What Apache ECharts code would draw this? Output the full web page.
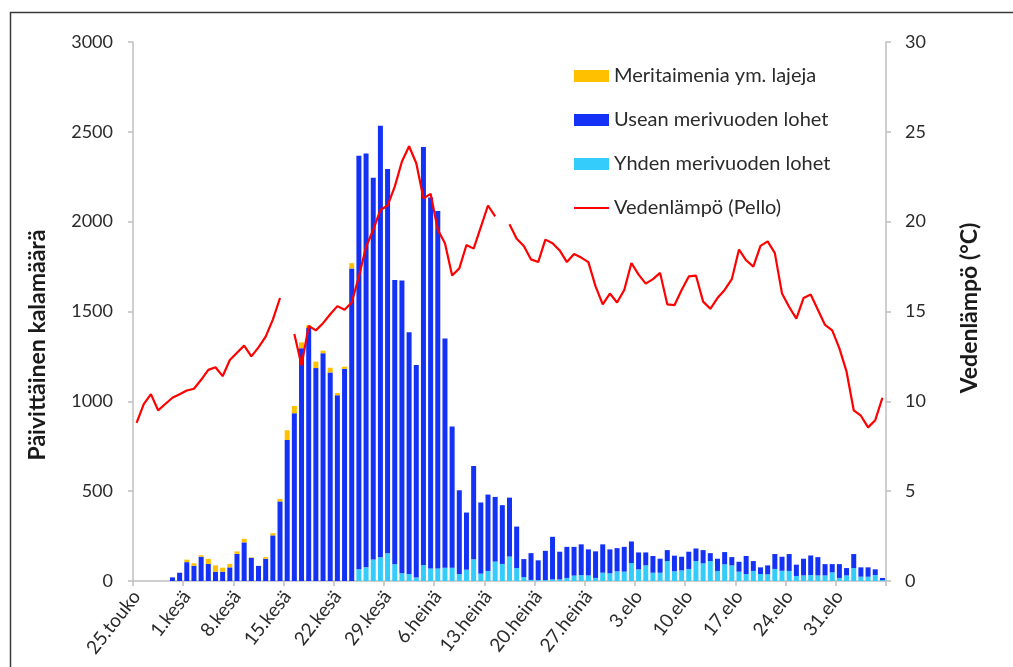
<!DOCTYPE html>
<html>
<head>
<meta charset="utf-8">
<script src="https://cdn.jsdelivr.net/npm/echarts@6/dist/echarts.min.js"></script>
<style>
  html, body { margin: 0; padding: 0; background: #ffffff; }
  #chart { width: 1013px; height: 667px; }
</style>
</head>
<body>
<div id="chart"></div>
<script>
// Päivittäiset nousukalamäärät ja veden lämpötila, 25.5.–6.9.
const days = [
  "25.touko","26.touko","27.touko","28.touko","29.touko","30.touko","31.touko",
  "1.kesä","2.kesä","3.kesä","4.kesä","5.kesä","6.kesä","7.kesä","8.kesä","9.kesä","10.kesä",
  "11.kesä","12.kesä","13.kesä","14.kesä","15.kesä","16.kesä","17.kesä","18.kesä","19.kesä","20.kesä",
  "21.kesä","22.kesä","23.kesä","24.kesä","25.kesä","26.kesä","27.kesä","28.kesä","29.kesä","30.kesä",
  "1.heinä","2.heinä","3.heinä","4.heinä","5.heinä","6.heinä","7.heinä","8.heinä","9.heinä","10.heinä",
  "11.heinä","12.heinä","13.heinä","14.heinä","15.heinä","16.heinä","17.heinä","18.heinä","19.heinä","20.heinä",
  "21.heinä","22.heinä","23.heinä","24.heinä","25.heinä","26.heinä","27.heinä","28.heinä","29.heinä","30.heinä","31.heinä",
  "1.elo","2.elo","3.elo","4.elo","5.elo","6.elo","7.elo","8.elo","9.elo","10.elo",
  "11.elo","12.elo","13.elo","14.elo","15.elo","16.elo","17.elo","18.elo","19.elo","20.elo",
  "21.elo","22.elo","23.elo","24.elo","25.elo","26.elo","27.elo","28.elo","29.elo","30.elo","31.elo",
  "1.syys","2.syys","3.syys","4.syys","5.syys","6.syys"
];

// Meritaimenia ym. lajeja (kpl/vrk)
const meritaimen = [
  0, 0, 0, 0, 0, 0, 0, 14, 14, 8,
  28, 35, 22, 19, 14, 20, 3, 0, 10, 12,
  14, 54, 40, 32, 15, 36, 14, 26, 12, 12,
  29, 0, 0, 0, 0, 0, 0, 0, 0, 0,
  0, 0, 0, 0, 0, 0, 0, 0, 0, 0,
  0, 0, 0, 0, 0, 0, 0, 0, 0, 0,
  0, 0, 0, 0, 0, 0, 0, 0, 0, 0,
  0, 0, 0, 0, 0, 0, 0, 0, 0, 0,
  0, 0, 0, 0, 0, 0, 0, 0, 0, 0,
  0, 0, 0, 0, 0, 0, 0, 0, 0, 0,
  0, 0, 0, 0, 0
];

// Usean merivuoden lohet (kpl/vrk)
const useanLohet = [
  0, 0, 0, 0, 0, 20, 46, 105, 85, 135,
  95, 52, 52, 76, 151, 215, 129, 84, 123, 254,
  443, 785, 934, 1296, 1408, 1185, 1268, 1161, 1034, 1181,
  1740, 2302, 2304, 2125, 2402, 2139, 1582, 1630, 1345, 1183,
  2326, 2065, 1989, 1276, 786, 466, 318, 519, 396, 425,
  360, 327, 328, 231, 100, 149, 110, 163, 237, 154,
  173, 160, 171, 145, 148, 158, 133, 129, 138, 120,
  94, 72, 93, 78, 61, 87, 76, 96, 70, 74,
  44, 68, 68, 46, 55, 100, 55, 37, 50, 83,
  78, 94, 63, 93, 109, 102, 63, 46, 77, 41,
  78, 52, 52, 32, 12
];

// Yhden merivuoden lohet (kpl/vrk)
const yhdenLohet = [
  0, 0, 0, 0, 0, 0, 0, 0, 0, 0,
  0, 0, 0, 0, 0, 0, 0, 0, 0, 0,
  0, 0, 0, 0, 0, 0, 0, 0, 0, 0,
  0, 65, 76, 120, 132, 154, 93, 43, 39, 19,
  89, 70, 70, 74, 74, 39, 63, 121, 41, 56,
  108, 95, 136, 72, 22, 6, 5, 5, 9, 9,
  17, 30, 33, 31, 17, 46, 43, 54, 52, 100,
  65, 87, 46, 46, 111, 54, 59, 67, 111, 98,
  111, 56, 93, 87, 52, 39, 56, 39, 37, 67,
  57, 56, 28, 31, 33, 31, 31, 48, 17, 31,
  72, 24, 24, 33, 5
];

// Veden lämpötila Pellossa (°C), puuttuvat päivät null
const vedenlampo = [
  8.8, 9.85, 10.4, 9.5, 9.85, 10.2, 10.4, 10.6, 10.7, 11.2,
  11.75, 11.9, 11.4, 12.3, 12.7, 13.1, 12.5, 13.0, 13.6, 14.55,
  15.75, null, 13.75, 12.0, 14.2, 13.95, 14.35, 14.85, 15.3, 15.1,
  15.5, 16.95, 18.6, 19.55, 20.65, 20.9, 21.95, 23.35, 24.2, 23.25,
  21.3, 21.55, 19.55, 18.8, 17.0, 17.4, 18.7, 18.5, 19.7, 20.9,
  20.3, null, 19.85, 19.05, 18.65, 17.9, 17.75, 19.0, 18.8, 18.4,
  17.75, 18.2, 18.0, 17.75, 16.4, 15.4, 16.0, 15.5, 16.2, 17.7,
  17.05, 16.55, 16.8, 17.15, 15.4, 15.35, 16.2, 16.95, 17.0, 15.55,
  15.15, 15.75, 16.2, 16.8, 18.45, 17.85, 17.5, 18.65, 18.9, 18.25,
  16.0, 15.25, 14.6, 15.75, 15.95, 15.1, 14.25, 13.95, 12.95, 11.65,
  9.5, 9.2, 8.55, 8.95, 10.2
];

const leftTicks = [0, 500, 1000, 1500, 2000, 2500, 3000];
const rightTicks = [0, 5, 10, 15, 20, 25, 30];

const FONT = 'Lato';
const TEXT = '#2b2b2b';
const AXIS = '#bfbfbf';

const chart = echarts.init(document.getElementById('chart'), null, { renderer: 'canvas' });

const barCommon = {
  type: 'bar',
  stack: 'kalat',
  barWidth: 5,
  yAxisIndex: 0,
  emphasis: { disabled: true }
};

chart.setOption({
  animation: false,
  backgroundColor: '#ffffff',
  textStyle: { fontFamily: FONT },
  grid: { left: 133, right: 127, top: 42, bottom: 86, containLabel: false },
  legend: {
    orient: 'vertical',
    left: 574,
    top: 66,
    padding: 0,
    itemWidth: 35,
    itemHeight: 12,
    itemGap: 24,
    textStyle: { fontFamily: FONT, fontSize: 20, color: TEXT, lineHeight: 20 },
    data: [
      { name: 'Meritaimenia ym. lajeja', icon: 'rect' },
      { name: 'Usean merivuoden lohet', icon: 'rect' },
      { name: 'Yhden merivuoden lohet', icon: 'rect' },
      { name: 'Vedenlämpö (Pello)', icon: 'path://M0,0H35V2H0Z' }
    ]
  },
  xAxis: {
    type: 'category',
    data: days,
    boundaryGap: true,
    axisLine: { lineStyle: { color: AXIS, width: 1.5 } },
    axisTick: { show: true, interval: 6, length: 5, lineStyle: { color: AXIS, width: 1.5 } },
    axisLabel: {
      interval: 6,
      rotate: 52,
      margin: 12,
      fontFamily: FONT,
      fontSize: 19,
      color: TEXT
    },
    splitLine: { show: false }
  },
  yAxis: [
    {
      type: 'value',
      min: leftTicks[0],
      max: leftTicks[leftTicks.length - 1],
      interval: 500,
      axisLine: { show: true, lineStyle: { color: AXIS, width: 1.5 } },
      axisTick: { show: true, length: 5, lineStyle: { color: AXIS, width: 1.5 } },
      axisLabel: {
        margin: 20, fontFamily: FONT, fontSize: 18, color: TEXT,
        formatter: (v) => String(v)
      },
      splitLine: { show: false }
    },
    {
      type: 'value',
      position: 'right',
      min: rightTicks[0],
      max: rightTicks[rightTicks.length - 1],
      interval: 5,
      axisLine: { show: true, lineStyle: { color: AXIS, width: 1.5 } },
      axisTick: { show: true, length: 5, lineStyle: { color: AXIS, width: 1.5 } },
      axisLabel: {
        margin: 19, fontFamily: FONT, fontSize: 18, color: TEXT,
        formatter: (v) => String(v)
      },
      splitLine: { show: false }
    }
  ],
  graphic: [
    {
      type: 'rect',
      silent: true,
      shape: { x: 10.5, y: 12.5, width: 1100, height: 800 },
      style: { fill: 'none', stroke: '#3a3a3a', lineWidth: 1.5 }
    },
    {
      type: 'text',
      silent: true,
      x: 38, y: 345,
      rotation: Math.PI / 2,
      style: {
        text: 'Päivittäinen kalamäärä',
        fontFamily: FONT, fontSize: 23, fontWeight: 'bold', fill: '#1a1a1a',
        align: 'center', verticalAlign: 'middle'
      }
    },
    {
      type: 'text',
      silent: true,
      x: 970, y: 308,
      rotation: Math.PI / 2,
      style: {
        text: 'Vedenlämpö (°C)',
        fontFamily: FONT, fontSize: 23, fontWeight: 'bold', fill: '#1a1a1a',
        align: 'center', verticalAlign: 'middle'
      }
    }
  ],
  series: [
    Object.assign({}, barCommon, {
      name: 'Yhden merivuoden lohet',
      data: yhdenLohet,
      itemStyle: { color: '#33ccfb' },
      z: 2
    }),
    Object.assign({}, barCommon, {
      name: 'Usean merivuoden lohet',
      data: useanLohet,
      itemStyle: { color: '#1432f5' },
      z: 2
    }),
    Object.assign({}, barCommon, {
      name: 'Meritaimenia ym. lajeja',
      data: meritaimen,
      itemStyle: { color: '#ffc000' },
      z: 2
    }),
    {
      name: 'Vedenlämpö (Pello)',
      type: 'line',
      yAxisIndex: 1,
      data: vedenlampo,
      connectNulls: false,
      symbol: 'none',
      smooth: false,
      lineStyle: { color: '#ff0000', width: 2.2 },
      itemStyle: { color: '#ff0000' },
      emphasis: { disabled: true },
      z: 5
    }
  ]
});
</script>
</body>
</html>
